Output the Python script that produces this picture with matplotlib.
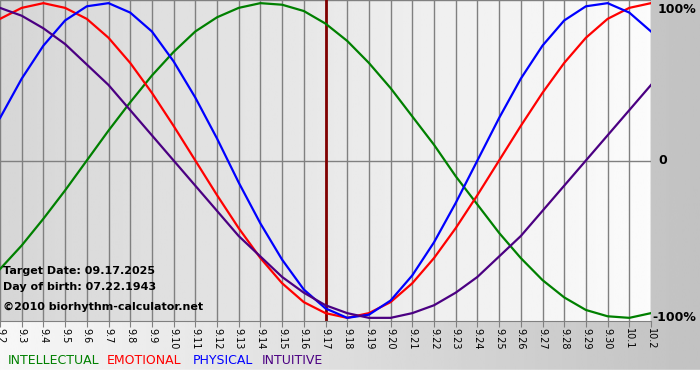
import numpy as np
import matplotlib
matplotlib.use("Agg")
from matplotlib import pyplot as plt

# day labels along the bottom (9.2 .. 10.2)
days = ["9.2", "9.3", "9.4", "9.5", "9.6", "9.7", "9.8", "9.9", "9.10", "9.11",
        "9.12", "9.13", "9.14", "9.15", "9.16", "9.17", "9.18", "9.19", "9.20",
        "9.21", "9.22", "9.23", "9.24", "9.25", "9.26", "9.27", "9.28", "9.29",
        "9.30", "10.1", "10.2"]
target_day = "9.17"

# values, one per day
physical = [0.27, 0.52, 0.73, 0.89, 0.98, 1.00, 0.94, 0.82, 0.63, 0.40, 0.14,
            -0.14, -0.40, -0.63, -0.82, -0.94, -1.00, -0.98, -0.89, -0.73,
            -0.52, -0.27, 0.00, 0.27, 0.52, 0.73, 0.89, 0.98, 1.00, 0.94, 0.82]
emotional = [0.90, 0.97, 1.00, 0.97, 0.90, 0.78, 0.62, 0.43, 0.22, 0.00, -0.22,
             -0.43, -0.62, -0.78, -0.90, -0.97, -1.00, -0.97, -0.90, -0.78,
             -0.62, -0.43, -0.22, 0.00, 0.22, 0.43, 0.62, 0.78, 0.90, 0.97, 1.00]
intellectual = [-0.69, -0.54, -0.37, -0.19, 0.00, 0.19, 0.37, 0.54, 0.69, 0.82,
                0.91, 0.97, 1.00, 0.99, 0.95, 0.87, 0.76, 0.62, 0.46, 0.28,
                0.10, -0.10, -0.28, -0.46, -0.62, -0.76, -0.87, -0.95, -0.99,
                -1.00, -0.97]
intuitive = [0.97, 0.92, 0.84, 0.74, 0.61, 0.48, 0.32, 0.16, 0.00, -0.16, -0.32,
             -0.48, -0.61, -0.74, -0.84, -0.92, -0.97, -1.00, -1.00, -0.97,
             -0.92, -0.84, -0.74, -0.61, -0.48, -0.32, -0.16, 0.00, 0.16, 0.32,
             0.48]

W, H = 700, 380
fig = plt.figure(figsize=(W / 100, H / 100), dpi=100)

# figure background: light on the left, gray on the right, white strip at bottom
bg = fig.add_axes([0, 0, 1, 1], zorder=-10)
grad = np.linspace(0.97, 0.76, 256)[None, :]
bg.imshow(grad, cmap="gray", vmin=0, vmax=1, aspect="auto", extent=[0, 1, 0, 1])
bg.axhspan(0, 10 / H, color="white")
bg.set_xlim(0, 1)
bg.set_ylim(0, 1)
bg.axis("off")

# plot area
ax = fig.add_axes([0, 1 - 321 / H, 651 / W, 321 / H])
x = np.arange(len(days))
ax.set_xlim(0, len(days) - 1)
ax.set_ylim(-1.02, 1.02)
pgrad = np.linspace(0.84, 0.985, 256)[None, :]
ax.imshow(pgrad, cmap="gray", vmin=0, vmax=1, aspect="auto",
          extent=[0, len(days) - 1, -1.02, 1.02], zorder=0)

for xi in x:
    ax.axvline(xi, color="#808080", lw=1.0, zorder=1)
ax.axhline(0, color="#808080", lw=1.0, zorder=1)
ax.axhline(1.02, color="#808080", lw=1.0, zorder=1)
ax.axvline(days.index(target_day), color="#800000", lw=2.0, zorder=2)

ax.plot(x, intellectual, color="#008000", lw=1.6, zorder=3)
ax.plot(x, emotional, color="#ff0000", lw=1.6, zorder=3)
ax.plot(x, physical, color="#0000ff", lw=1.6, zorder=3)
ax.plot(x, intuitive, color="#4b0082", lw=1.6, zorder=3)

ax.set_xticks(x)
ax.set_xticklabels(days, rotation=-90, fontsize=7)
ax.tick_params(axis="x", length=4, color="#808080", pad=1)
ax.set_yticks([])
for s in ["top", "left", "right"]:
    ax.spines[s].set_visible(False)
ax.spines["bottom"].set_color("#808080")

# right side labels
for val, lab, dx, dy in [(1, "100%", 7, -6), (0, "0", 7, 0), (-1, "-100%", 1, 0)]:
    ax.annotate(lab, xy=(1, val), xycoords=("axes fraction", "data"),
                xytext=(dx, dy), textcoords="offset pixels", va="center",
                ha="left", fontsize=9, fontweight="bold", clip_on=False)

# info text
fig.text(3 / W, 1 - 271 / H, "Target Date: 09.17.2025", fontsize=8,
         fontweight="bold", va="center")
fig.text(3 / W, 1 - 287 / H, "Day of birth: 07.22.1943", fontsize=8,
         fontweight="bold", va="center")
fig.text(3 / W, 1 - 307 / H, "\u00a92010 biorhythm-calculator.net", fontsize=8,
         fontweight="bold", va="center")

# legend words
legend = [("INTELLECTUAL", "#008000", 8), ("EMOTIONAL", "#ff0000", 107),
          ("PHYSICAL", "#0000ff", 193), ("INTUITIVE", "#4b0082", 262)]
for word, col, px in legend:
    fig.text(px / W, 1 - 361 / H, word, color=col, fontsize=9, va="center")

fig.savefig("out.png", dpi=100)
